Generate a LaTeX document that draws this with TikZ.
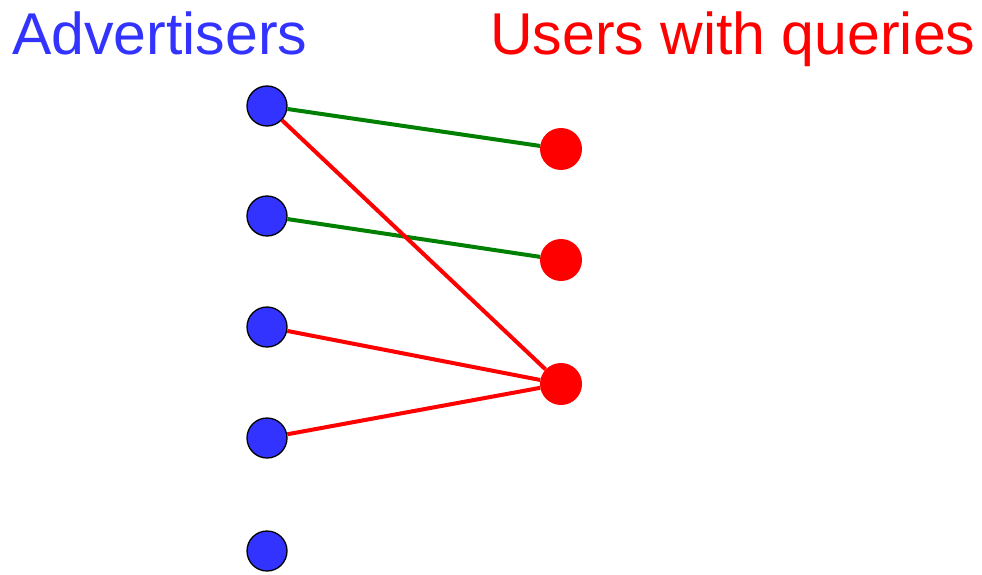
\documentclass[tikz,border=0pt]{standalone}
\usepackage{fontspec}
\setmainfont{Liberation Sans}
\definecolor{advblue}{HTML}{3333FF}
\definecolor{usrred}{HTML}{FF0000}
\definecolor{edgegreen}{HTML}{008000}
\begin{document}
\begin{tikzpicture}[x=1pt,y=-1pt,
  adv/.style={circle,fill=advblue,draw=black,line width=1.3pt,minimum size=40pt,inner sep=0pt},
  usr/.style={circle,fill=usrred,minimum size=42pt,inner sep=0pt},
  gedge/.style={edgegreen,line width=4pt},
  redge/.style={usrred,line width=4pt},
  ttl/.style={anchor=base west,inner sep=0pt,font=\fontsize{59}{59}\selectfont}]
\useasboundingbox (0,0) rectangle (982,575);
\node[ttl,text=advblue] (tadv) at (12,55) {Advertisers};
\node[ttl,text=usrred] (tusr) at (490,55) {Users with queries};
\node[adv] (a1) at (267,106) {};
\node[adv] (a2) at (267,216) {};
\node[adv] (a3) at (267,327) {};
\node[adv] (a4) at (267,438) {};
\node[adv] (a5) at (267,551) {};
\node[usr] (u1) at (561,149) {};
\node[usr] (u2) at (561,260) {};
\node[usr] (u3) at (561,384) {};
\draw[gedge] (a1) -- (u1);
\draw[gedge] (a2) -- (u2);
\draw[redge] (a1) -- (u3);
\draw[redge] (a3) -- (u3);
\draw[redge] (a4) -- (u3);
\end{tikzpicture}
\end{document}
